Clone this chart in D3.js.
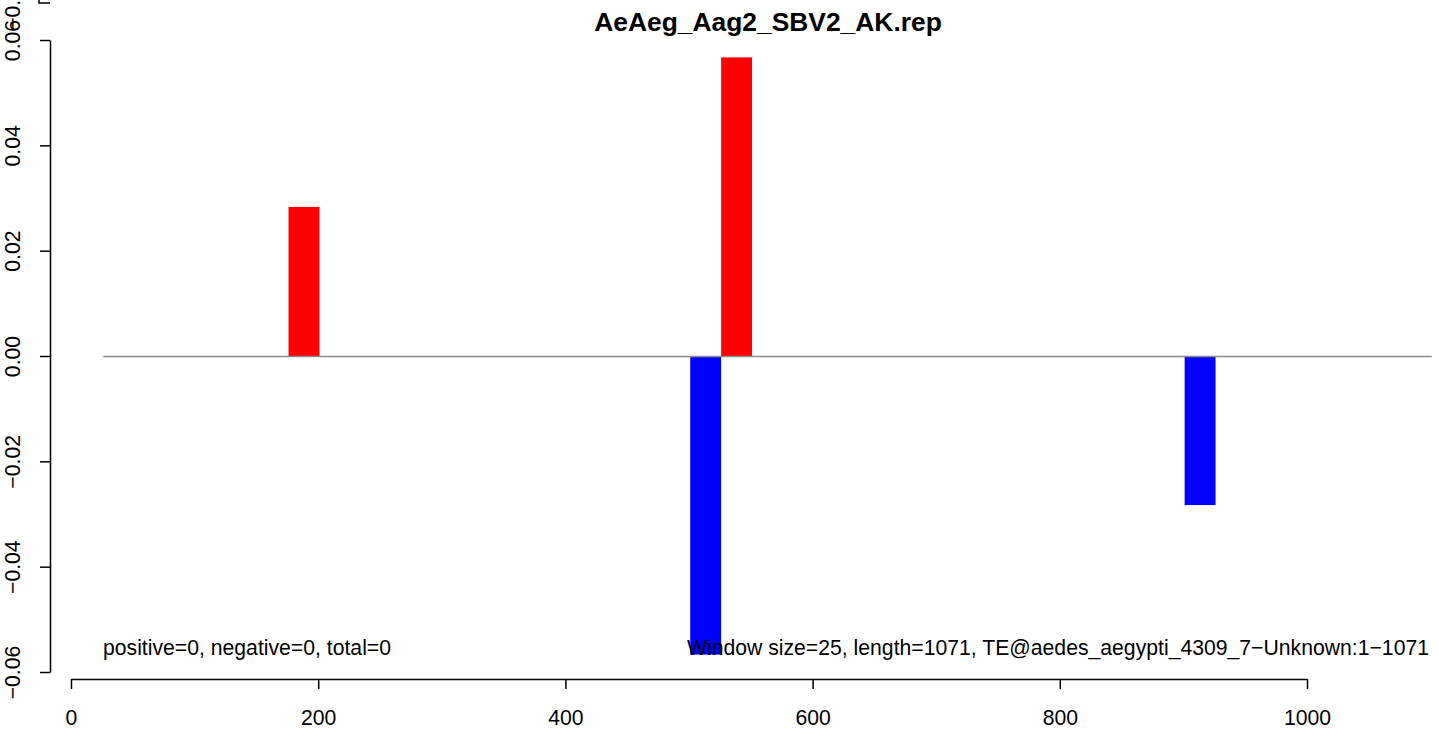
<!DOCTYPE html>
<html>
<head>
<meta charset="utf-8">
<script src="https://cdn.jsdelivr.net/npm/d3@7"></script>
<style>
  html, body { margin: 0; padding: 0; background: #fff; overflow: hidden; }
  svg { display: block; font-family: "Liberation Sans", Arial, Helvetica, sans-serif; }
</style>
</head>
<body>
<svg id="chart" width="1439" height="730"></svg>
<script>
// ---- data ----
const title = "AeAeg_Aag2_SBV2_AK.rep";
const windowSize = 25;
const windowStarts = [176, 501, 526, 901];
const windowValues = [0.0283, -0.0567, 0.0567, -0.0283];
const xTicks = [0, 200, 400, 600, 800, 1000];
const xTickLabels = ["0", "200", "400", "600", "800", "1000"];
const yTicks = [-0.06, -0.04, -0.02, 0, 0.02, 0.04, 0.06];
const yTickLabels = ["\u22120.06", "\u22120.04", "\u22120.02", "0.00", "0.02", "0.04", "0.06"];
const zeroLineRange = [26, 1101];
const leftNote = "positive=0, negative=0, total=0";
const rightNote = "Window size=25, length=1071, TE@aedes_aegypti_4309_7\u2212Unknown:1\u22121071";

// ---- drawing ----
const svg = d3.select("#chart");
const x = d3.scaleLinear().domain([0, 1000]).range([71, 1307]);
const y = d3.scaleLinear().domain([-0.06, 0.06]).range([672, 40]);
const fs = 21.2;

// bars
const bars = windowStarts.map((s, i) => ({ start: s, end: s + windowSize, v: windowValues[i] }));
svg.append("g").selectAll("rect").data(bars).join("rect")
  .attr("x", d => x(d.start))
  .attr("width", d => x(d.end) - x(d.start))
  .attr("y", d => y(Math.max(0, d.v)))
  .attr("height", d => Math.abs(y(d.v) - y(0)))
  .attr("fill", d => d.v >= 0 ? "#ff0000" : "#0000ff");

// zero line
svg.append("line")
  .attr("x1", x(zeroLineRange[0])).attr("x2", x(zeroLineRange[1]))
  .attr("y1", y(0) + 0.5).attr("y2", y(0) + 0.5)
  .attr("stroke", "#8c8c8c").attr("stroke-width", 1.3);

// x axis
const xAxis = d3.axisBottom(x).tickValues(xTicks)
  .tickFormat((d, i) => xTickLabels[i]).tickSize(10).tickSizeOuter(0);
const gx = svg.append("g").attr("transform", "translate(0,679)").call(xAxis);
gx.select(".domain").attr("stroke", "#000").attr("stroke-width", 1.5);
gx.selectAll(".tick line").attr("stroke", "#000").attr("stroke-width", 1.5);
gx.selectAll(".tick text").attr("font-size", fs).attr("fill", "#000")
  .attr("font-family", "'Liberation Sans', Arial, sans-serif")
  .attr("dy", "0").attr("y", 46);

// y axis
const yAxis = d3.axisLeft(y).tickValues(yTicks)
  .tickFormat((d, i) => yTickLabels[i]).tickSize(10).tickSizeOuter(0);
const gy = svg.append("g").attr("transform", "translate(50,0)").call(yAxis);
gy.select(".domain").attr("stroke", "#000").attr("stroke-width", 1.5);
gy.selectAll(".tick line").attr("stroke", "#000").attr("stroke-width", 1.5);
gy.selectAll(".tick text").remove();
gy.selectAll(".tick").append("text")
  .attr("transform", "translate(-30,0) rotate(-90)")
  .attr("text-anchor", "middle")
  .attr("font-size", fs).attr("fill", "#000")
  .attr("font-family", "'Liberation Sans', Arial, sans-serif")
  .text((d, i) => yTickLabels[i]);

// clipped remnant of the panel above: its lowest y tick and label
svg.append("path").attr("d", "M39,0V3H50").attr("fill", "none")
  .attr("stroke", "#000").attr("stroke-width", 1.5);
svg.append("text")
  .attr("transform", "translate(20,3) rotate(-90)")
  .attr("text-anchor", "middle").attr("font-size", fs).attr("fill", "#000")
  .text(yTickLabels[0]);

// title
svg.append("text").attr("x", 768).attr("y", 31)
  .attr("text-anchor", "middle").attr("font-weight", "bold").attr("font-size", 26.4)
  .attr("fill", "#000").text(title);

// notes
svg.append("text").attr("x", 103).attr("y", 655)
  .attr("font-size", fs).attr("fill", "#000").text(leftNote);
svg.append("text").attr("x", 1429).attr("y", 655)
  .attr("text-anchor", "end").attr("font-size", fs).attr("fill", "#000").text(rightNote);
</script>
</body>
</html>
